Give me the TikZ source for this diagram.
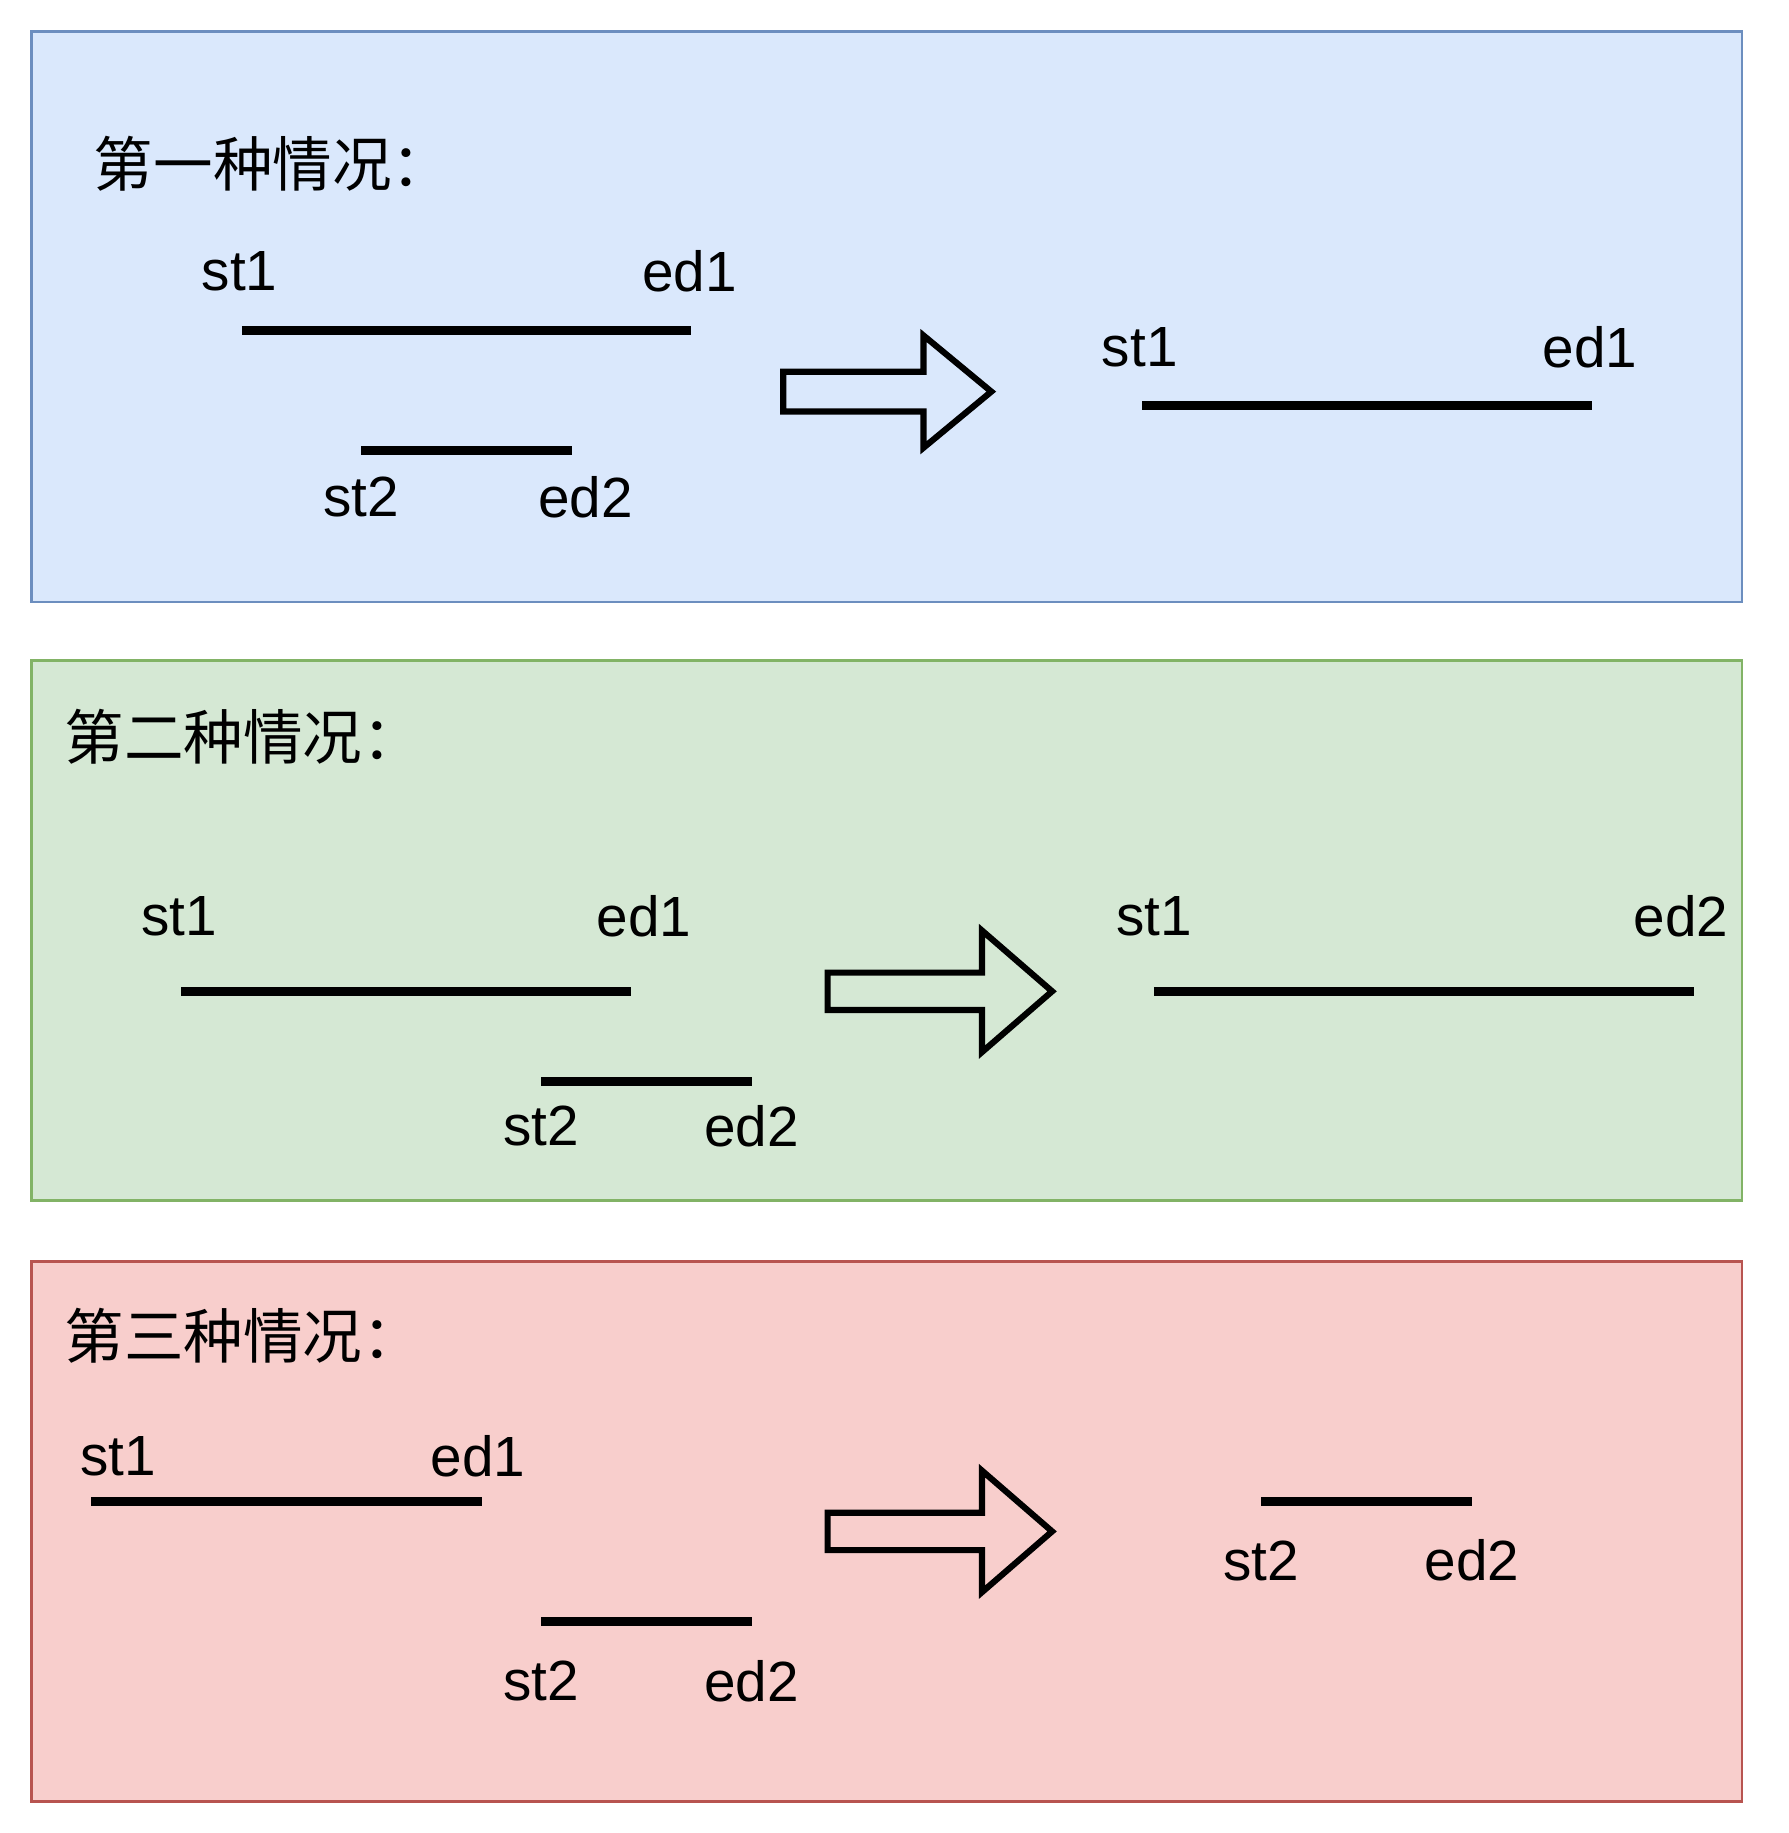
\documentclass[tikz,border=0pt]{standalone}
\usepackage{fontspec}
\setmainfont{Liberation Sans}
\newfontfamily\cjk{Noto Sans CJK SC}
\usetikzlibrary{positioning}

\definecolor{bluefill}{HTML}{DAE8FC}
\definecolor{blueline}{HTML}{6C8EBF}
\definecolor{greenfill}{HTML}{D5E8D4}
\definecolor{greenline}{HTML}{82B366}
\definecolor{redfill}{HTML}{F8CECC}
\definecolor{redline}{HTML}{B85450}

\tikzset{
    panel/.style={line width=1.1pt},
    seg/.style={line width=4.4pt},
    lbl/.style={inner sep=0pt, font=\fontsize{27.6}{33}\selectfont},
    ttl/.style={inner sep=0pt, anchor=west, font=\cjk\fontsize{29}{35}\selectfont},
    fat/.style={draw, line width=3pt, line join=miter}
}

\begin{document}
\begin{tikzpicture}[x=0.02cm, y=-0.02cm]
    \useasboundingbox (0,0) rectangle (1530,1568);

    % panels
    \draw[panel, fill=bluefill, draw=blueline] (27,27) rectangle (1490,515);
    \draw[panel, fill=greenfill, draw=greenline] (27,565) rectangle (1490,1027);
    \draw[panel, fill=redfill, draw=redline] (27,1079) rectangle (1490,1541);

    \node[ttl] (t1) at (80,140) {第一种情况：};
    \node[ttl] (t2) at (55,630) {第二种情况：};
    \node[ttl] (t3) at (55,1143) {第三种情况：};

    % first case
    \coordinate (p1s) at (207,283); \coordinate (p1e) at (591,283);
    \coordinate (q1s) at (309,385); \coordinate (q1e) at (489,385);
    \coordinate (r1s) at (977,347); \coordinate (r1e) at (1362,347);
    \draw[seg] (p1s) -- (p1e);
    \draw[seg] (q1s) -- (q1e);
    \draw[seg] (r1s) -- (r1e);
    \node[lbl] (p1st) at (205,232) {st1};
    \node[lbl] (p1ed) at (590,232) {ed1};
    \node[lbl] (q1st) at (309,425) {st2};
    \node[lbl] (q1ed) at (501,425) {ed2};
    \node[lbl] (r1st) at (975,297) {st1};
    \node[lbl] (r1ed) at (1360,297) {ed1};
    \draw[fat] (670,318) -- (790,318) -- (790,287) -- (848,335)
        -- (790,383) -- (790,352) -- (670,352) -- cycle;

    % second case
    \coordinate (p2s) at (155,848); \coordinate (p2e) at (540,848);
    \coordinate (q2s) at (463,925); \coordinate (q2e) at (643,925);
    \coordinate (r2s) at (987,848); \coordinate (r2e) at (1449,848);
    \draw[seg] (p2s) -- (p2e);
    \draw[seg] (q2s) -- (q2e);
    \draw[seg] (r2s) -- (r2e);
    \node[lbl] (p2st) at (153,784) {st1};
    \node[lbl] (p2ed) at (551,784) {ed1};
    \node[lbl] (q2st) at (463,963) {st2};
    \node[lbl] (q2ed) at (643,963) {ed2};
    \node[lbl] (r2st) at (987,784) {st1};
    \node[lbl] (r2ed) at (1438,784) {ed2};

    % third case
    \coordinate (p3s) at (78,1284); \coordinate (p3e) at (412,1284);
    \coordinate (q3s) at (463,1387); \coordinate (q3e) at (643,1387);
    \coordinate (r3s) at (1079,1284); \coordinate (r3e) at (1259,1284);
    \draw[seg] (p3s) -- (p3e);
    \draw[seg] (q3s) -- (q3e);
    \draw[seg] (r3s) -- (r3e);
    \node[lbl] (p3st) at (101,1246) {st1};
    \node[lbl] (p3ed) at (409,1246) {ed1};
    \node[lbl] (q3st) at (463,1438) {st2};
    \node[lbl] (q3ed) at (643,1438) {ed2};
    \node[lbl] (r3st) at (1079,1335) {st2};
    \node[lbl] (r3ed) at (1259,1335) {ed2};

    \foreach \y in {848,1310}
        \draw[fat] (708,\y-16) -- (840,\y-16) -- (840,\y-52) -- (900,\y)
            -- (840,\y+52) -- (840,\y+16) -- (708,\y+16) -- cycle;
\end{tikzpicture}
\end{document}
